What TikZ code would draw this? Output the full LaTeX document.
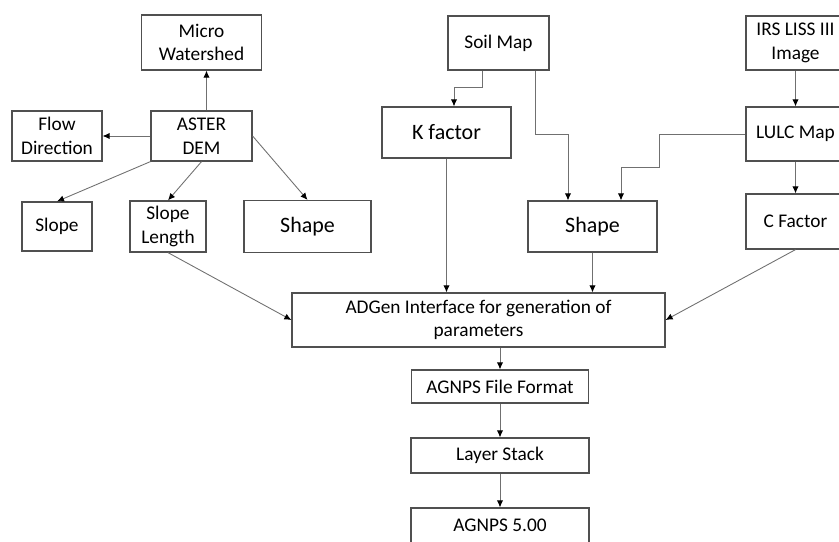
\documentclass[tikz,border=0pt]{standalone}
\usepackage{fontspec}
\setmainfont{Carlito}
\usetikzlibrary{positioning, arrows.meta}

\definecolor{boxgray}{HTML}{505050}
\definecolor{linegray}{HTML}{707070}

\begin{document}
\begin{tikzpicture}[on grid,
    font=\fontsize{11}{13.4}\selectfont,
    box/.style={draw=boxgray, line width=0.7pt, align=center, inner sep=0pt},
    big/.style={font=\fontsize{12.5}{15}\selectfont},
    link/.style={-{Latex[length=4pt, width=3.6pt, black]}, draw=linegray, line width=0.5pt}]

    \useasboundingbox (0,0) rectangle (16.78,-10.82);

    \node[box, minimum width=2.02cm, minimum height=1.00cm] (aster) at (4.03,-2.72) {ASTER\\DEM};
    \node[box, minimum width=2.40cm, minimum height=1.10cm] (micro) [above=1.87cm of aster] {Micro\\Watershed};
    \node[box, minimum width=1.80cm, minimum height=1.00cm] (flow) [left=2.89cm of aster] {Flow\\Direction};
    \node[box, minimum width=1.40cm, minimum height=0.98cm] (slope) [below=1.81cm of flow] {Slope};
    \node[box, minimum width=1.52cm, minimum height=1.02cm] (slopelen) [right=2.22cm of slope] {Slope\\Length};
    \node[box, big, minimum width=2.54cm, minimum height=1.04cm] (shape_l) [right=2.79cm of slopelen] {Shape};

    \node[box, big, minimum width=2.58cm, minimum height=1.02cm] (kfac) at (8.93,-2.65) {K factor};
    \node[box, minimum width=2.02cm, minimum height=1.08cm] (soil) [above right=1.79cm and 1.04cm of kfac] {Soil Map};
    \node[box, big, minimum width=2.58cm, minimum height=1.02cm] (shape_m) [right=5.70cm of shape_l] {Shape};
    \node[box, minimum width=1.98cm, minimum height=1.08cm] (irs) [right=5.94cm of soil] {IRS LISS III\\Image};
    \node[box, minimum width=1.98cm, minimum height=1.08cm] (lulc) [below=1.82cm of irs] {LULC Map};
    \node[box, minimum width=1.98cm, minimum height=1.10cm] (cfac) [below=1.75cm of lulc] {C Factor};

    \node[box, minimum width=7.46cm, minimum height=1.08cm] (adgen) at (9.57,-6.40) {ADGen Interface for generation of\\parameters};
    \node[box, minimum width=3.54cm, minimum height=0.66cm] (ffmt) at (10.00,-7.73) {AGNPS File Format};
    \node[box, minimum width=3.56cm, minimum height=0.70cm] (stack) [below=1.38cm of ffmt] {Layer Stack};
    \node[box, minimum width=3.56cm, minimum height=0.70cm] (agnps) [below=1.40cm of stack] {AGNPS 5.00};

    % DEM branch
    \draw[link] ([xshift=1mm]aster.north) -- ([xshift=1mm]micro.south);
    \draw[link] (aster.west) -- (flow.east);
    \draw[link] (aster.south west) -- (slope.north);
    \draw[link] (aster.south) -- (slopelen.north);
    \draw[link] (aster.east) -- (shape_l.north);

    % soil and land use
    \draw[link] ([xshift=-3.3mm]soil.south) -- ++(0,-0.34) -| ([xshift=1.5mm]kfac.north);
    \draw[link] ([xshift=7.3mm]soil.south) -- ++(0,-1.28) -| ([xshift=-4.9mm]shape_m.north);
    \draw[link] (lulc.west) -- ++(-1.72,0) -- ++(0,-0.66) -| ([xshift=5.7mm]shape_m.north);
    \draw[link] (irs) -- (lulc);
    \draw[link] (lulc) -- (cfac);

    % into ADGen
    \draw[link] (slopelen.south) -- (adgen.west);
    \draw[link] (kfac) -- (kfac |- adgen.north);
    \draw[link] (shape_m) -- (shape_m |- adgen.north);
    \draw[link] (cfac.south) -- (adgen.east);

    \draw[link] (adgen.south -| ffmt.north) -- (ffmt.north);
    \draw[link] (ffmt) -- (stack);
    \draw[link] (stack) -- (agnps);

\end{tikzpicture}
\end{document}
